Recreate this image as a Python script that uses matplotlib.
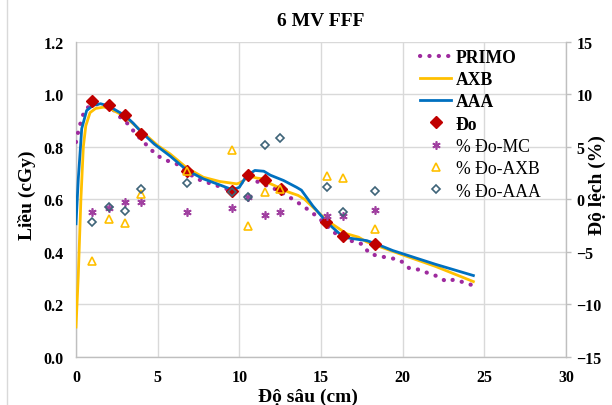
import matplotlib
matplotlib.use('Agg')
import matplotlib.pyplot as plt
from matplotlib.lines import Line2D

plt.rcParams['font.family'] = ['Liberation Serif', 'DejaVu Serif']

# ---- data ----
primo_x = [0, 0.15, 0.35, 0.55, 0.85, 1.2, 1.6, 2.0, 2.4, 2.7, 3.0, 3.4, 3.8, 4.35, 4.95,
           5.55, 6.15, 6.8, 7.4, 8.0, 8.6, 9.2, 9.6, 10.15, 10.55, 11.25, 12.1, 12.9, 13.7,
           14.3, 14.85, 15.55, 16.05, 16.8, 17.5, 18.0, 18.9, 19.3, 19.7, 20.0, 20.4, 20.7,
           21.0, 21.4, 21.7, 22.0, 22.7, 23.1, 23.5, 23.9, 24.3]
primo_y = [0.818, 0.862, 0.907, 0.942, 0.955, 0.962, 0.960, 0.955, 0.935, 0.913, 0.900, 0.869,
           0.840, 0.805, 0.767, 0.748, 0.735, 0.703, 0.678, 0.665, 0.653, 0.640, 0.632, 0.665,
           0.684, 0.663, 0.642, 0.615, 0.583, 0.557, 0.530, 0.488, 0.462, 0.443, 0.430, 0.392,
           0.380, 0.376, 0.371, 0.361, 0.338, 0.333, 0.333, 0.323, 0.316, 0.310, 0.287, 0.294,
           0.288, 0.282, 0.272]

axb_x = [0, 0.14, 0.3, 0.45, 0.6, 0.86, 1.2, 1.7, 2.0, 3.0, 4.0, 5.0, 5.76, 6.78, 7.8, 8.8,
         9.84, 10.15, 10.55, 11.07, 11.47, 11.88, 12.5, 13.0, 13.6, 14.0, 14.73, 15.35, 16.57,
         17.3, 17.8, 19.84, 22.0, 24.33]
axb_y = [0.114, 0.31, 0.60, 0.80, 0.88, 0.930, 0.946, 0.951, 0.948, 0.915, 0.860, 0.805, 0.773,
         0.720, 0.684, 0.668, 0.659, 0.665, 0.690, 0.681, 0.678, 0.660, 0.643, 0.628, 0.615,
         0.600, 0.557, 0.520, 0.469, 0.456, 0.438, 0.392, 0.345, 0.287]

aaa_x = [0, 0.14, 0.35, 0.65, 1.05, 1.5, 2.0, 2.5, 3.0, 3.5, 4.0, 4.8, 5.76, 6.8, 7.8, 8.8,
         9.6, 10.0, 10.45, 10.95, 11.5, 11.9, 12.7, 13.5, 13.8, 14.5, 15.35, 16.37, 17.0, 17.8,
         18.4, 19.4, 20.0, 22.0, 24.33]
aaa_y = [0.507, 0.678, 0.869, 0.938, 0.958, 0.964, 0.955, 0.937, 0.919, 0.890, 0.856, 0.810,
         0.765, 0.710, 0.678, 0.655, 0.636, 0.646, 0.690, 0.710, 0.707, 0.692, 0.672, 0.646,
         0.635, 0.575, 0.513, 0.456, 0.450, 0.443, 0.430, 0.405, 0.393, 0.353, 0.310]

meas_x = [1.0, 2.0, 3.0, 3.96, 6.78, 9.55, 10.55, 11.55, 12.53, 15.31, 16.33, 18.33]
meas_y = [0.973, 0.960, 0.922, 0.850, 0.707, 0.630, 0.693, 0.672, 0.639, 0.513, 0.460, 0.429]

pct_x = [1.0, 2.0, 3.0, 4.0, 6.8, 9.55, 10.55, 11.55, 12.5, 15.35, 16.33, 18.33]
pct_mc = [-1.24, -0.78, -0.22, -0.22, -1.18, -0.86, 0.22, -1.5, -1.24, -1.56, -1.56, -1.02]
pct_axb = [-5.85, -1.87, -2.25, 0.5, 2.73, 4.72, -2.57, 0.66, 0.98, 2.25, 2.0, -2.83]
pct_aaa = [-2.13, -0.76, -1.08, 0.98, 1.55, 0.72, 0.26, 5.2, 5.83, 1.13, -1.18, 0.75]

x_ticks = [0, 5, 10, 15, 20, 25, 30]
y_ticks = [0.0, 0.2, 0.4, 0.6, 0.8, 1.0, 1.2]
y2_ticks = [-15, -10, -5, 0, 5, 10, 15]

# ---- colours ----
c_primo = '#9E2A9E'
c_axb = '#FFC000'
c_aaa = '#0070C0'
c_meas = '#C00000'
c_mc = '#A040A0'
c_pdaaa = '#3E6478'
grid_c = '#D9D9D9'

fig = plt.figure(figsize=(6.12, 4.06), dpi=100)
ax = fig.add_axes([76 / 612, 48 / 406, 490 / 612, 315.3 / 406])
ax2 = ax.twinx()

ax.plot(primo_x, primo_y, color=c_primo, lw=3.0, linestyle=(0, (0.05, 2.2)),
        dash_capstyle='round', label='PRIMO', zorder=3)
ax.plot(axb_x, axb_y, color=c_axb, lw=2.0, label='AXB', zorder=3)
ax.plot(aaa_x, aaa_y, color=c_aaa, lw=2.0, label='AAA', zorder=3)
ax.plot(meas_x, meas_y, linestyle='none', marker='D', ms=6, color=c_meas,
        mec=c_meas, label='Đo', zorder=4)

ax2.plot(pct_x, pct_mc, linestyle='none', marker=(6, 2, 0), ms=6, mew=1.2,
         color=c_mc, label='% Đo-MC')
ax2.plot(pct_x, pct_axb, linestyle='none', marker='^', ms=5.5, mfc='none', mew=1.2,
         mec=c_axb, label='% Đo-AXB')
ax2.plot(pct_x, pct_aaa, linestyle='none', marker='D', ms=4.3, mfc='none', mew=1.2,
         mec=c_pdaaa, label='% Đo-AAA')

ax.set_xlim(0, 30)
ax.set_ylim(0, 1.2)
ax2.set_ylim(-15, 15)
ax.set_xticks(x_ticks)
ax.set_yticks(y_ticks)
ax2.set_yticks(y2_ticks)
ax.set_yticklabels(['%.1f' % v for v in y_ticks])
ax.grid(True, color=grid_c, lw=1.0, zorder=0)
ax.set_axisbelow(True)

for a in (ax, ax2):
    for s in a.spines.values():
        s.set_visible(False)
ax.spines['left'].set_visible(True)
ax.spines['bottom'].set_visible(True)
ax2.spines['right'].set_visible(True)
for s in (ax.spines['left'], ax.spines['bottom'], ax2.spines['right']):
    s.set_color('#BFBFBF')
    s.set_linewidth(1.0)

ax.tick_params(axis='x', length=0, pad=9, labelsize=11.5)
ax.tick_params(axis='y', length=0, pad=9, labelsize=11.5)
ax2.tick_params(axis='y', length=3.5, width=1.0, color='#BFBFBF', pad=4, labelsize=11.5)
for lab in ax.get_xticklabels() + ax.get_yticklabels() + ax2.get_yticklabels():
    lab.set_fontweight('bold')

fig.text(321 / 612, 1 - 22 / 406, '6 MV FFF', ha='center', va='center',
         fontsize=14, fontweight='bold')
fig.text(308 / 612, 1 - 397 / 406, 'Độ sâu (cm)', ha='center', va='center',
         fontsize=14, fontweight='bold')
fig.text(26.7 / 612, 1 - 195 / 406, 'Liều (cGy)', ha='center', va='center',
         fontsize=14, fontweight='bold', rotation=90)
fig.text(597 / 612, 1 - 185 / 406, 'Độ lệch (%)', ha='center', va='center',
         fontsize=14, fontweight='bold', rotation=90)

# left border line of the chart area
fig.add_artist(Line2D([6.5 / 612, 6.5 / 612], [0, 1], color='#D9D9D9', lw=1.0))

h1, l1 = ax.get_legend_handles_labels()
h2, l2 = ax2.get_legend_handles_labels()
leg = ax2.legend(h1 + h2, l1 + l2, loc='upper left', bbox_to_anchor=(0.688, 1.0),
                 frameon=False, fontsize=12.7, handlelength=1.75, handletextpad=0.28,
                 labelspacing=0.3, borderaxespad=0)
for i, t in enumerate(leg.get_texts()):
    if i < 4:
        t.set_fontweight('bold')

fig.savefig('out.png', dpi=100)
